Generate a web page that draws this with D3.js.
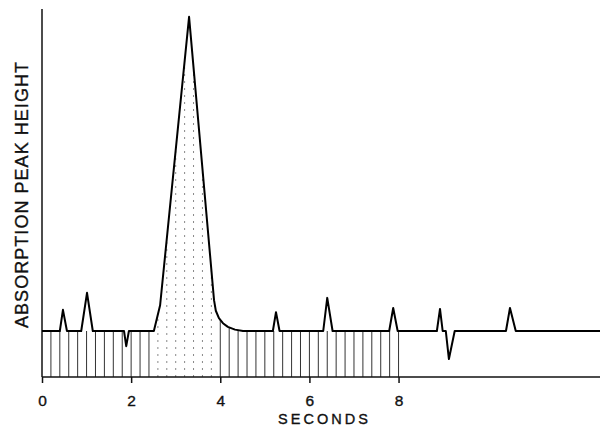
<!DOCTYPE html>
<meta charset="utf-8">
<style>
body { margin: 0; background: #fff; }
text { font-family: "Liberation Sans", Arial, sans-serif; fill: #111; stroke: #111; stroke-width: 0.35; }
.axis path, .axis line { stroke: #111; stroke-width: 1.5; }
.trace { fill: none; stroke: #000; stroke-width: 2; stroke-linejoin: round; }
.hatch { stroke: #333; stroke-width: 1; }
.hatch.inside { stroke: #888; stroke-dasharray: 2,5; }
</style>
<svg width="601" height="428"></svg>
<script src="https://d3js.org/d3.v7.min.js"></script>
<script>

// time (s) and detector response (baseline = 0, axis = -1)
var seconds = [0, 0.40, 0.47, 0.56, 0.88, 1.01, 1.14, 1.84, 1.89, 1.95,
  2.51, 2.65, 3.30, 3.86, 3.90, 3.97, 4.06, 4.17, 4.33, 4.51,
  5.18, 5.25, 5.33, 6.31, 6.40, 6.52, 7.79, 7.88, 7.98,
  8.86, 8.93, 8.99, 9.06, 9.13, 9.26, 10.41, 10.50, 10.63, 12.52];
var response = [0, 0, 0.46, 0, 0, 0.83, 0, 0, -0.33, 0,
  0, 0.56, 6.83, 0.67, 0.44, 0.28, 0.17, 0.09, 0.03, 0,
  0, 0.41, 0, 0, 0.72, 0, 0, 0.50, 0,
  0, 0.48, 0, 0, -0.61, 0, 0, 0.50, 0, 0];

var tickValues = [0, 2, 4, 6, 8];
var bigPeak = [2.51, 4.51];   // hatching follows the curve only inside this window
var hatchStep = 0.2, hatchEnd = 8;

var svg = d3.select("svg");

var x = d3.scaleLinear().domain([0, 12.52]).range([42, 600]),
    y = d3.scaleLinear().domain([-1, 7]).range([377, 9]);

var data = seconds.map(function(t, i) { return {t: t, v: response[i]}; });

// value of the trace at time t (linear between recorded points)
function traceAt(t) {
  var i = d3.bisector(function(d) { return d.t; }).right(data, t);
  if (i <= 0) return data[0].v;
  if (i >= data.length) return data[data.length - 1].v;
  var a = data[i - 1], b = data[i];
  return a.v + (b.v - a.v) * (t - a.t) / (b.t - a.t);
}

// vertical hatching under the trace
var hatchTimes = d3.range(1, Math.round(hatchEnd / hatchStep) + 1).map(function(i) { return i * hatchStep; });

svg.append("g").selectAll("line")
  .data(hatchTimes)
  .enter().append("line")
    .attr("class", function(t) { return (t > 2.55 && t < 3.85) ? "hatch inside" : "hatch"; })
    .attr("x1", function(t) { return x(t); })
    .attr("x2", function(t) { return x(t); })
    .attr("y1", y(-1))
    .attr("y2", function(t) {
      var top = (t >= bigPeak[0] && t <= bigPeak[1]) ? traceAt(t) : 0;
      return y(Math.max(top, 0));
    });

// axes
svg.append("line")
  .attr("class", "axis")
  .attr("x1", x(0)).attr("x2", x(0))
  .attr("y1", y(7)).attr("y2", y(-1))
  .attr("stroke", "#111").attr("stroke-width", 1.5);

var xAxis = svg.append("g")
  .attr("class", "axis")
  .attr("transform", "translate(0," + y(-1) + ")")
  .call(d3.axisBottom(x).tickValues(tickValues).tickSize(6).tickSizeOuter(0));

xAxis.select(".domain").attr("d", "M" + x(0) + ",0H" + x(12.52));
xAxis.selectAll(".tick text")
  .attr("y", 29).attr("dy", 0)
  .style("font-size", "15.5px")
  .attr("fill", "#111");

// trace
svg.append("path")
  .datum(data)
  .attr("class", "trace")
  .attr("d", d3.line()
    .x(function(d) { return x(d.t); })
    .y(function(d) { return y(d.v); }));

// labels
svg.append("text")
  .attr("x", 323).attr("y", 424)
  .attr("text-anchor", "middle")
  .attr("textLength", 90)
  .attr("lengthAdjust", "spacing")
  .style("font-size", "14.5px")
  .text("SECONDS");

svg.append("text")
  .attr("transform", "translate(28,195) rotate(-90)")
  .attr("text-anchor", "middle")
  .attr("textLength", 266)
  .attr("lengthAdjust", "spacing")
  .style("font-size", "18px")
  .text("ABSORPTION PEAK HEIGHT");

</script>
